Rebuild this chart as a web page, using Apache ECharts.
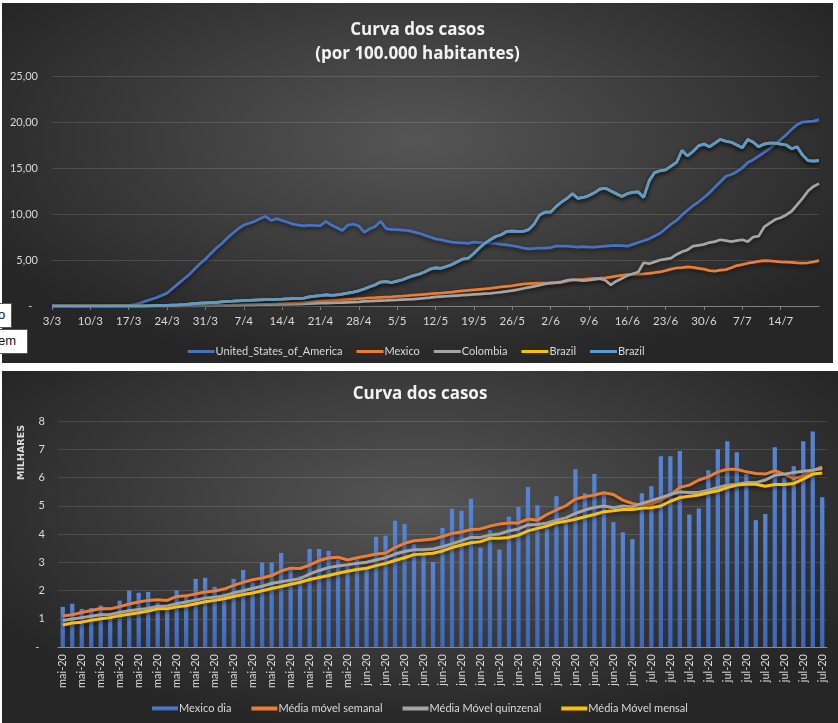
<!DOCTYPE html>
<html>
<head>
    <meta charset="utf-8">
    <title>Curva dos casos</title>
    <script src="https://cdn.jsdelivr.net/npm/echarts@6/dist/echarts.min.js"></script>
    <style>
        body { margin: 0; background: #fff; width: 838px; height: 723px; position: relative; overflow: hidden; }
        .painel { position: absolute; background: radial-gradient(ellipse 60% 65% at 50% 38%, #555555 0%, #404040 45%, #262626 100%); }
        .celula { position: absolute; background: #fff; border: 1px solid #555; font: 13px "Liberation Sans", sans-serif; color: #111; line-height: 22px; padding-left: 1px; }
    </style>
</head>
<body>
<div id="casos100k" class="painel" style="left:2px; top:3px; width:831px; height:360px;"></div>
<div id="mexico" class="painel" style="left:2px; top:371px; width:836px; height:352px;"></div>
<div class="celula" style="left:-4px; top:303px; width:13px; height:23px;">o</div>
<div class="celula" style="left:-4px; top:329px; width:29px; height:23px;">em</div>
<script type="text/javascript">
// ---- grafico 1: casos por 100.000 habitantes (3/3 a 21/7) ----
var mesesDias = [[3, 3, 31], [4, 1, 30], [5, 1, 31], [6, 1, 30], [7, 1, 21]];
var datas = [];
mesesDias.forEach(function (m) {
    for (var d = m[1]; d <= m[2]; d++) datas.push(d + '/' + m[0]);
});

var usa = [
    0, 0, 0, 0, 0, 0, 0, 0, 0, 0,
    0.01, 0.02, 0.03, 0.05, 0.08, 0.15, 0.3, 0.5, 0.7, 0.9,
    1.15, 1.4, 1.9, 2.4, 2.9, 3.4, 4.0, 4.6, 5.1, 5.7,
    6.3, 6.8, 7.4, 7.9, 8.4, 8.8, 9.0, 9.2, 9.5, 9.75,
    9.3, 9.5, 9.3, 9.1, 8.9, 8.8, 8.7, 8.8, 8.75, 8.75,
    9.2, 8.8, 8.5, 8.2, 8.8, 8.9, 8.7, 8.0, 8.4, 8.65,
    9.2, 8.4, 8.3, 8.3, 8.25, 8.2, 8.05, 7.9, 7.7, 7.5,
    7.3, 7.2, 7.05, 6.95, 6.9, 6.85, 6.8, 6.95, 6.9, 6.85,
    6.8, 6.8, 6.7, 6.65, 6.55, 6.45, 6.3, 6.2, 6.25, 6.3,
    6.3, 6.35, 6.5, 6.5, 6.5, 6.45, 6.4, 6.45, 6.4, 6.4,
    6.45, 6.5, 6.55, 6.6, 6.55, 6.5, 6.7, 6.9, 7.1, 7.3,
    7.6, 7.9, 8.4, 8.9, 9.3, 9.9, 10.4, 10.9, 11.3, 11.8,
    12.3, 12.9, 13.5, 14.1, 14.3, 14.6, 15.0, 15.6, 15.9, 16.3,
    16.7, 17.1, 17.6, 18.1, 18.6, 19.2, 19.7, 20.0, 20.05, 20.1,
    20.25
];
var mexico = [
    0, 0, 0, 0, 0, 0, 0, 0, 0, 0,
    0, 0, 0, 0, 0, 0, 0, 0, 0, 0,
    0, 0, 0, 0, 0, 0, 0, 0, 0, 0,
    0.02, 0.03, 0.04, 0.06, 0.08, 0.1, 0.12, 0.14, 0.16, 0.18,
    0.2, 0.22, 0.25, 0.28, 0.3, 0.33, 0.37, 0.42, 0.48, 0.53,
    0.57, 0.6, 0.64, 0.68, 0.72, 0.76, 0.8, 0.83, 0.87, 0.9,
    0.94, 0.97, 1.0, 1.05, 1.08, 1.12, 1.17, 1.22, 1.27, 1.32,
    1.36, 1.4, 1.45, 1.5, 1.58, 1.65, 1.7, 1.75, 1.8, 1.85,
    1.92, 2.0, 2.08, 2.14, 2.2, 2.3, 2.38, 2.42, 2.45, 2.48,
    2.5, 2.52, 2.5, 2.55, 2.7, 2.8, 2.86, 2.9, 2.95, 3.0,
    3.02, 3.05, 3.15, 3.25, 3.33, 3.4, 3.43, 3.46, 3.5, 3.55,
    3.62, 3.7, 3.85, 4.0, 4.13, 4.18, 4.24, 4.2, 4.1, 4.0,
    3.85, 3.8, 3.9, 3.95, 4.15, 4.4, 4.5, 4.65, 4.75, 4.85,
    4.93, 4.9, 4.86, 4.8, 4.78, 4.75, 4.7, 4.67, 4.7, 4.8,
    4.93
];
var colombia = [
    0, 0, 0, 0, 0, 0, 0, 0, 0, 0,
    0, 0, 0, 0, 0, 0, 0, 0, 0, 0,
    0, 0, 0, 0, 0, 0.01, 0.02, 0.03, 0.04, 0.05,
    0.06, 0.07, 0.08, 0.09, 0.1, 0.11, 0.12, 0.13, 0.14, 0.15,
    0.16, 0.17, 0.18, 0.19, 0.2, 0.2, 0.22, 0.25, 0.28, 0.3,
    0.32, 0.34, 0.36, 0.38, 0.4, 0.42, 0.45, 0.5, 0.52, 0.55,
    0.58, 0.6, 0.63, 0.66, 0.7, 0.73, 0.76, 0.8, 0.85, 0.9,
    0.98, 1.02, 1.06, 1.1, 1.14, 1.18, 1.22, 1.26, 1.3, 1.34,
    1.38, 1.44, 1.5, 1.58, 1.68, 1.78, 1.9, 2.02, 2.14, 2.26,
    2.4, 2.48, 2.55, 2.62, 2.78, 2.86, 2.8, 2.75, 2.82, 2.9,
    2.97, 2.8, 2.3, 2.7, 3.0, 3.3, 3.5, 3.7, 4.7, 4.6,
    4.8, 5.0, 5.1, 5.2, 5.6, 5.9, 6.1, 6.5, 6.6, 6.7,
    6.9, 7.0, 7.2, 7.1, 7.0, 7.1, 7.2, 7.0, 7.5, 7.6,
    8.6, 9.0, 9.4, 9.6, 9.9, 10.3, 11.0, 11.7, 12.5, 13.0,
    13.3
];
var brazil = [
    0, 0, 0, 0, 0, 0, 0, 0, 0, 0,
    0, 0, 0, 0, 0, 0, 0, 0, 0.02, 0.04,
    0.06, 0.08, 0.1, 0.12, 0.15, 0.2, 0.25, 0.3, 0.33, 0.36,
    0.4, 0.45, 0.5, 0.52, 0.55, 0.58, 0.6, 0.63, 0.66, 0.68,
    0.7, 0.72, 0.74, 0.77, 0.8, 0.8, 0.85, 1.0, 1.08, 1.12,
    1.2, 1.15, 1.2, 1.3, 1.4, 1.5, 1.65, 1.85, 2.1, 2.3,
    2.6, 2.65, 2.55, 2.7, 2.85, 3.1, 3.3, 3.45, 3.7, 4.0,
    4.15, 4.1, 4.3, 4.5, 4.8, 5.1, 5.2, 5.7, 6.3, 6.8,
    7.2, 7.55, 7.75, 8.1, 8.15, 8.1, 8.1, 8.3, 8.9, 9.9,
    10.2, 10.2, 10.8, 11.3, 11.7, 12.2, 11.7, 11.8, 12.0, 12.3,
    12.7, 12.8, 12.5, 12.2, 11.9, 12.2, 12.35, 12.4, 11.8, 13.6,
    14.5, 14.7, 14.8, 15.2, 15.6, 16.9, 16.3, 16.8, 17.4, 17.6,
    17.3, 17.7, 18.1, 17.9, 17.8, 17.5, 17.2, 18.1, 17.8, 17.3,
    17.6, 17.7, 17.7, 17.6, 17.5, 17.1, 17.3, 16.4, 15.8, 15.75,
    15.8
];

// ---- grafico 2: Mexico, casos diarios (milhares) e medias moveis (mai a jul) ----
var mesesMx = [['mai-20', 31], ['jun-20', 30], ['jul-20', 20]];
var diasMx = [];
mesesMx.forEach(function (m) {
    for (var i = 0; i < m[1]; i++) diasMx.push(m[0]);
});

var mexicoDia = [
    1.42, 1.53, 1.35, 1.38, 1.47, 1.2, 1.64, 2.0, 1.92, 1.95,
    1.57, 1.3, 2.0, 1.85, 2.41, 2.45, 2.13, 1.9, 2.41, 2.73,
    2.28, 2.99, 2.99, 3.33, 2.75, 2.5, 3.47, 3.47, 3.4, 3.1,
    2.85, 3.1, 2.75, 3.9, 3.94, 4.47, 4.35, 3.64, 3.3, 3.01,
    4.22, 4.89, 4.82, 5.25, 3.52, 4.14, 3.45, 4.61, 4.96, 5.66,
    5.02, 4.2, 5.34, 4.38, 6.29, 5.44, 6.12, 5.4, 4.42, 4.06,
    3.82, 5.44, 5.69, 6.75, 6.75, 6.94, 4.69, 4.9, 6.26, 7.0,
    7.28, 6.89, 6.12, 4.49, 4.71, 7.07, 6.0, 6.4, 7.28, 7.63,
    5.3
];
var mediaSemanal = [
    1.1, 1.14, 1.22, 1.29, 1.36, 1.35, 1.43, 1.52, 1.59, 1.65,
    1.67, 1.65, 1.79, 1.81, 1.88, 1.95, 1.98, 2.05, 2.18, 2.29,
    2.38, 2.44, 2.53, 2.69, 2.79, 2.78, 2.9, 3.06, 3.15, 3.18,
    3.08, 3.16, 3.22, 3.29, 3.32, 3.52, 3.67, 3.76, 3.79, 3.82,
    3.91, 4.02, 4.07, 4.16, 4.18, 4.28, 4.35, 4.39, 4.39, 4.53,
    4.49, 4.69, 4.85, 5.0, 5.24, 5.32, 5.38, 5.46, 5.4, 5.2,
    5.08, 5.02, 5.06, 5.2, 5.38, 5.65, 5.73, 5.91, 6.02, 6.2,
    6.29, 6.29, 6.2, 6.14, 6.12, 6.24, 6.12, 5.96, 6.05, 6.24,
    6.38
];
var mediaQuinzenal = [
    0.94, 0.99, 1.04, 1.09, 1.14, 1.15, 1.22, 1.28, 1.33, 1.36,
    1.44, 1.45, 1.53, 1.59, 1.66, 1.73, 1.76, 1.81, 1.91, 1.99,
    2.07, 2.15, 2.25, 2.31, 2.36, 2.42, 2.58, 2.71, 2.81, 2.87,
    2.91, 2.96, 3.0, 3.08, 3.16, 3.29, 3.38, 3.44, 3.44, 3.47,
    3.55, 3.65, 3.76, 3.88, 3.88, 3.96, 4.0, 4.11, 4.18, 4.32,
    4.34, 4.38, 4.49, 4.57, 4.73, 4.85, 4.94, 4.99, 4.93, 4.99,
    4.96, 5.08, 5.18, 5.29, 5.4, 5.49, 5.47, 5.47, 5.55, 5.65,
    5.73, 5.76, 5.82, 5.82, 5.91, 6.08, 6.12, 6.18, 6.22, 6.26,
    6.32
];
var mediaMensal = [
    0.78, 0.85, 0.88, 0.95, 1.0, 1.04, 1.11, 1.16, 1.21, 1.27,
    1.35, 1.35, 1.42, 1.46, 1.53, 1.6, 1.65, 1.71, 1.79, 1.86,
    1.91, 1.99, 2.07, 2.14, 2.22, 2.29, 2.39, 2.46, 2.53, 2.61,
    2.68, 2.74, 2.79, 2.88, 2.96, 3.06, 3.16, 3.27, 3.29, 3.32,
    3.4, 3.52, 3.61, 3.69, 3.73, 3.85, 3.85, 3.88, 3.96, 4.11,
    4.2, 4.28, 4.4, 4.45, 4.52, 4.61, 4.69, 4.79, 4.82, 4.87,
    4.87, 4.91, 4.93, 4.99, 5.16, 5.29, 5.34, 5.38, 5.46, 5.53,
    5.64, 5.73, 5.76, 5.76, 5.69, 5.75, 5.75, 5.79, 5.94, 6.12,
    6.16
];

var corTexto = '#d9d9d9';
var fonte = 'Lato, "Open Sans", sans-serif';
var grade = { lineStyle: { color: 'rgba(255,255,255,0.13)', width: 1 } };
var sombra = { shadowColor: 'rgba(0,0,0,0.55)', shadowBlur: 4, shadowOffsetY: 2 };

function linha(nome, cor, dados, w) {
    return {
        name: nome,
        type: 'line',
        data: dados,
        symbol: 'none',
        smooth: false,
        lineStyle: Object.assign({ color: cor, width: w || 2.75 }, sombra),
        itemStyle: { color: cor },
        emphasis: { disabled: true }
    };
}

// grafico de cima
var chart1 = echarts.init(document.getElementById('casos100k'));
chart1.setOption({
    backgroundColor: 'transparent',
    animation: false,
    textStyle: { fontFamily: fonte },
    title: {
        text: 'Curva dos casos\n(por 100.000 habitantes)',
        left: 'center',
        top: 10,
        textStyle: { color: '#f2f2f2', fontSize: 17, fontWeight: 'bold', lineHeight: 24, fontFamily: '"Open Sans", sans-serif' }
    },
    legend: {
        data: ['United_States_of_America', 'Mexico', 'Colombia', 'Brazil', 'Brazil '],
        left: 'center',
        top: 338,
        icon: 'rect',
        itemWidth: 27,
        itemHeight: 3,
        itemGap: 14,
        textStyle: { color: corTexto, fontSize: 11, padding: [0, 0, 0, -4] }
    },
    grid: { left: 50, right: 14, top: 73, bottom: 57, containLabel: false },
    xAxis: {
        type: 'category',
        data: datas,
        boundaryGap: false,
        axisLine: { lineStyle: { color: '#7f7f7f' } },
        axisTick: { interval: 6, length: 4, lineStyle: { color: '#7f7f7f' } },
        axisLabel: { interval: 6, color: corTexto, fontSize: 11.5, margin: 9, showMaxLabel: false },
        splitLine: { show: false }
    },
    yAxis: {
        type: 'value',
        min: 0,
        max: 25,
        interval: 5,
        axisLine: { show: false },
        axisTick: { show: false },
        axisLabel: {
            color: corTexto, fontSize: 11, margin: 14,
            formatter: function (v) { return v === 0 ? '-  ' : v.toFixed(2).replace('.', ','); }
        },
        splitLine: grade
    },
    series: [
        linha('United_States_of_America', '#4472C4', usa),
        linha('Mexico', '#ED7D31', mexico),
        linha('Colombia', '#A5A5A5', colombia),
        linha('Brazil', '#FFC000', brazil),
        linha('Brazil ', '#5B9BD5', brazil)
    ]
});

// grafico de baixo
var chart2 = echarts.init(document.getElementById('mexico'));
chart2.setOption({
    backgroundColor: 'transparent',
    animation: false,
    textStyle: { fontFamily: fonte },
    title: {
        text: 'Curva dos casos',
        left: 'center',
        top: 10,
        textStyle: { color: '#f2f2f2', fontSize: 17, fontWeight: 'bold', fontFamily: '"Open Sans", sans-serif' }
    },
    legend: {
        data: ['Mexico dia', 'Média móvel semanal', 'Média Móvel quinzenal', 'Média Móvel mensal'],
        left: 'center',
        top: 327,
        icon: 'rect',
        itemWidth: 26,
        itemHeight: 4,
        itemGap: 20,
        textStyle: { color: corTexto, fontSize: 11, padding: [0, 0, 0, -4] }
    },
    graphic: [{
        type: 'text',
        left: 15,
        top: 54,
        rotation: Math.PI / 2,
        style: { text: 'MILHARES', fill: corTexto, font: 'bold 9.5px "DejaVu Sans", sans-serif' }
    }],
    grid: { left: 56, right: 11, top: 50, bottom: 76, containLabel: false },
    xAxis: {
        type: 'category',
        data: diasMx,
        boundaryGap: true,
        axisLine: { lineStyle: { color: '#8c8c8c' } },
        axisTick: { interval: 1, length: 4, lineStyle: { color: '#8c8c8c' } },
        axisLabel: { interval: 1, rotate: 90, color: corTexto, fontSize: 11, margin: 7 },
        splitLine: { show: false }
    },
    yAxis: {
        type: 'value',
        min: 0,
        max: 8,
        interval: 1,
        axisLine: { show: false },
        axisTick: { show: false },
        axisLabel: {
            color: corTexto, fontSize: 11, margin: 13,
            formatter: function (v) { return v === 0 ? '-  ' : String(v); }
        },
        splitLine: grade
    },
    series: [
        {
            name: 'Mexico dia',
            type: 'bar',
            data: mexicoDia,
            barWidth: '45%',
            itemStyle: {
                color: new echarts.graphic.LinearGradient(0, 0, 0, 1, [
                    { offset: 0, color: '#5585d6' },
                    { offset: 1, color: '#3d68ba' }
                ])
            },
            emphasis: { disabled: true }
        },
        linha('Média móvel semanal', '#ED7D31', mediaSemanal, 3),
        linha('Média Móvel quinzenal', '#A5A5A5', mediaQuinzenal, 3),
        linha('Média Móvel mensal', '#FFC000', mediaMensal, 3)
    ]
});
</script>
</body>
</html>
